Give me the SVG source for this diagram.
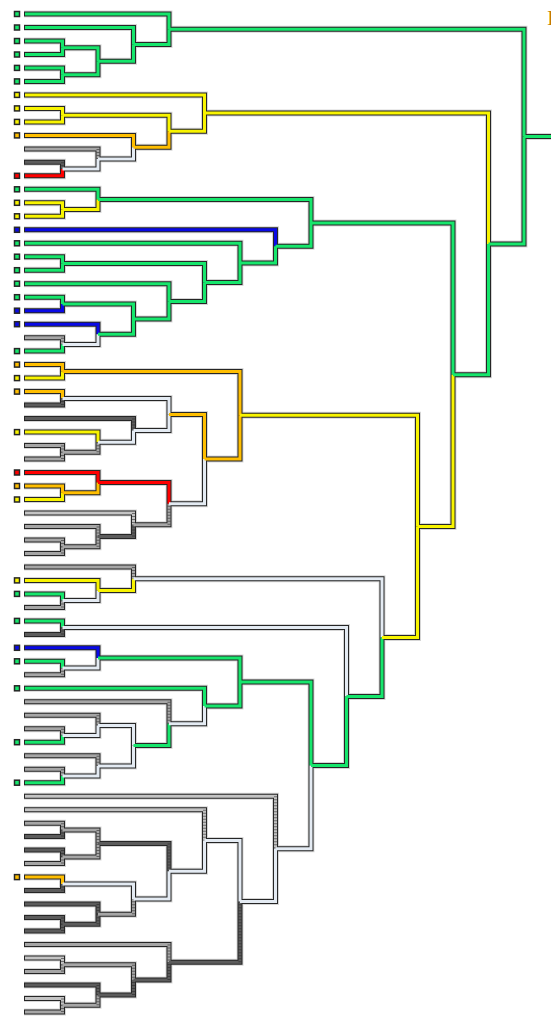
<svg xmlns="http://www.w3.org/2000/svg" width="551" height="1025" viewBox="0 0 551 1025">
<style>
.h{fill:none;stroke:#8a8a8a;stroke-width:7;stroke-opacity:.35;stroke-linejoin:miter}
.o{fill:none;stroke:#262626;stroke-width:5;stroke-linejoin:miter}
.e{fill:none;stroke-width:3;stroke-linejoin:miter}
.g{stroke:#16e66c}.y{stroke:#f8f400}.or{stroke:#ffbe00}.r{stroke:#ff0000}.b{stroke:#0a0ae6}
.w{stroke:#e4ebf3}.gr{stroke:#a6a6a6}.lg{stroke:#c4c4c4}.dg{stroke:#5c5c5c}
.l{fill:none;stroke:#262626;stroke-opacity:.55;stroke-width:3;stroke-dasharray:1 2}
.sq{stroke:#262626;stroke-width:1.5}
.fg{fill:#16e66c}.fy{fill:#f8f400}.fo{fill:#ffbe00}.fr{fill:#ff0000}.fb{fill:#0a0ae6}
.t{font-family:"Liberation Serif",serif;font-size:22px;fill:#c47a00}
</style>
<defs>
<path id="all" d="M24 14H169V29.2M24 27.5H133.5V44.4M24 41H62.5V47.7M24 54.5H62.5V47.7M24 67.9H62.5V74.7M24 81.4H62.5V74.7M24 94.9H204.5V113M24 108.4H62.5V115.2M24 121.9H62.5V115.2M24 135.4H133.5V147.2M24 148.9H98V159M24 162.3H62.5V169.1M24 175.8H62.5V169.1M24 189.3H98V199.4M24 202.8H62.5V209.6M24 216.3H62.5V209.6M24 229.8H275.5V246.3M24 243.3H240V262.9M24 256.7H62.5V263.5M24 270.2H62.5V263.5M24 283.7H169V301.4M24 297.2H62.5V304M24 310.7H62.5V304M24 324.2H98V334.3M24 337.7H62.5V344.4M24 351.1H62.5V344.4M24 364.6H62.5V371.4M24 378.1H62.5V371.4M24 391.6H62.5V398.4M24 405.1H62.5V398.4M24 418.6H133.5V430.4M24 432.1H98V442.2M24 445.6H62.5V452.3M24 459H62.5V452.3M24 472.5H98V482.6M24 486H62.5V492.8M24 499.5H62.5V492.8M24 513H133.5V524.8M24 526.5H98V536.6M24 540H62.5V546.7M24 553.4H62.5V546.7M24 566.9H133.5V578.7M24 580.4H98V590.5M24 593.9H62.5V600.6M24 607.4H62.5V600.6M24 620.9H62.5V627.6M24 634.4H62.5V627.6M24 647.8H98V658M24 661.3H62.5V668.1M24 674.8H62.5V668.1M24 688.3H204.5V706M24 701.8H169V723.7M24 715.3H98V725.4M24 728.8H62.5V735.5M24 742.2H62.5V735.5M24 755.7H98V765.9M24 769.2H62.5V776M24 782.7H62.5V776M24 796.2H275.5V848.8M24 809.7H204.5V840.5M24 823.2H62.5V829.9M24 836.6H62.5V829.9M24 850.1H62.5V856.9M24 863.6H62.5V856.9M24 877.1H62.5V883.9M24 890.6H62.5V883.9M24 904.1H98V914.2M24 917.6H62.5V924.3M24 931H62.5V924.3M24 944.5H169V962.2M24 958H62.5V964.8M24 971.5H62.5V964.8M24 985H98V995.1M24 998.5H62.5V1005.2M24 1012H62.5V1005.2
M62.5 47.7H98V61.2M62.5 74.7H98V61.2M62.5 115.2H169V131.2M62.5 169.1H98V159M62.5 209.6H98V199.4M62.5 263.5H204.5V282.5M62.5 304H133.5V319.1M62.5 344.4H98V334.3M62.5 371.4H240V415.2M62.5 398.4H169V414.4M62.5 452.3H98V442.2M62.5 492.8H98V482.6M62.5 546.7H98V536.6M62.5 600.6H98V590.5M62.5 627.6H346.5V696.5M62.5 668.1H98V658M62.5 735.5H98V725.4M62.5 776H98V765.9M62.5 829.9H98V843.4M62.5 856.9H98V843.4M62.5 883.9H133.5V899M62.5 924.3H98V914.2M62.5 964.8H133.5V979.9M62.5 1005.2H98V995.1
M98 61.2H133.5V44.4M98 159H133.5V147.2M98 199.4H311V222.9M98 334.3H133.5V319.1M98 442.2H133.5V430.4M98 482.6H169V503.7M98 536.6H133.5V524.8M98 590.5H133.5V578.7M98 658H240V682M98 725.4H133.5V745.6M98 765.9H133.5V745.6M98 843.4H169V871.2M98 914.2H133.5V899M98 995.1H133.5V979.9
M133.5 44.4H169V29.2M133.5 147.2H169V131.2M133.5 319.1H169V301.4M133.5 430.4H169V414.4M133.5 524.8H169V503.7M133.5 578.7H382V637.6M133.5 745.6H169V723.7M133.5 899H169V871.2M133.5 979.9H169V962.2
M169 29.2H524V136.5M169 131.2H204.5V113M169 301.4H204.5V282.5M169 414.4H204.5V459.1M169 503.7H204.5V459.1M169 723.7H204.5V706M169 871.2H204.5V840.5M169 962.2H240V901.4
M204.5 113H488.5V243.9M204.5 282.5H240V262.9M204.5 459.1H240V415.2M204.5 706H240V682M204.5 840.5H240V901.4
M240 262.9H275.5V246.3M240 415.2H417.5V526.4M240 682H311V765.4M240 901.4H275.5V848.8
M275.5 246.3H311V222.9M275.5 848.8H311V765.4M311 222.9H453V374.7M311 765.4H346.5V696.5M346.5 696.5H382V637.6M382 637.6H417.5V526.4M417.5 526.4H453V374.7M453 374.7H488.5V243.9M488.5 243.9H524V136.5M524 136.5H560"/>
</defs>
<g id="connectors">
<use href="#all" class="h"/>
<use href="#all" class="o"/>
<path class="e g" d="M25 14H169V29.2"/>
<path class="e g" d="M25 27.5H133.5V44.4"/>
<path class="e g" d="M25 41H62.5V47.7"/>
<path class="e g" d="M25 54.5H62.5V47.7"/>
<path class="e g" d="M25 67.9H62.5V74.7"/>
<path class="e g" d="M25 81.4H62.5V74.7"/>
<path class="e y" d="M25 94.9H204.5V113"/>
<path class="e y" d="M25 108.4H62.5V115.2"/>
<path class="e y" d="M25 121.9H62.5V115.2"/>
<path class="e or" d="M25 135.4H133.5V147.2"/>
<path class="e gr" d="M25 148.9H98V159"/><path class="l" d="M98 148.9V159"/>
<path class="e dg" d="M25 162.3H62.5V169.1"/><path class="l" d="M62.5 162.3V169.1"/>
<path class="e r" d="M25 175.8H62.5V169.1"/>
<path class="e g" d="M25 189.3H98V199.4"/>
<path class="e y" d="M25 202.8H62.5V209.6"/>
<path class="e y" d="M25 216.3H62.5V209.6"/>
<path class="e b" d="M25 229.8H275.5V246.3"/>
<path class="e g" d="M25 243.3H240V262.9"/>
<path class="e g" d="M25 256.7H62.5V263.5"/>
<path class="e g" d="M25 270.2H62.5V263.5"/>
<path class="e g" d="M25 283.7H169V301.4"/>
<path class="e g" d="M25 297.2H62.5V304"/>
<path class="e b" d="M25 310.7H62.5V304"/>
<path class="e b" d="M25 324.2H98V334.3"/>
<path class="e gr" d="M25 337.7H62.5V344.4"/><path class="l" d="M62.5 337.7V344.4"/>
<path class="e g" d="M25 351.1H62.5V344.4"/>
<path class="e or" d="M25 364.6H62.5V371.4"/>
<path class="e y" d="M25 378.1H62.5V371.4"/>
<path class="e or" d="M25 391.6H62.5V398.4"/>
<path class="e dg" d="M25 405.1H62.5V398.4"/><path class="l" d="M62.5 405.1V398.4"/>
<path class="e dg" d="M25 418.6H133.5V430.4"/><path class="l" d="M133.5 418.6V430.4"/>
<path class="e y" d="M25 432.1H98V442.2"/>
<path class="e gr" d="M25 445.6H62.5V452.3"/><path class="l" d="M62.5 445.6V452.3"/>
<path class="e gr" d="M25 459H62.5V452.3"/><path class="l" d="M62.5 459V452.3"/>
<path class="e r" d="M25 472.5H98V482.6"/>
<path class="e or" d="M25 486H62.5V492.8"/>
<path class="e y" d="M25 499.5H62.5V492.8"/>
<path class="e lg" d="M25 513H133.5V524.8"/><path class="l" d="M133.5 513V524.8"/>
<path class="e gr" d="M25 526.5H98V536.6"/><path class="l" d="M98 526.5V536.6"/>
<path class="e gr" d="M25 540H62.5V546.7"/><path class="l" d="M62.5 540V546.7"/>
<path class="e gr" d="M25 553.4H62.5V546.7"/><path class="l" d="M62.5 553.4V546.7"/>
<path class="e gr" d="M25 566.9H133.5V578.7"/><path class="l" d="M133.5 566.9V578.7"/>
<path class="e y" d="M25 580.4H98V590.5"/>
<path class="e g" d="M25 593.9H62.5V600.6"/>
<path class="e gr" d="M25 607.4H62.5V600.6"/><path class="l" d="M62.5 607.4V600.6"/>
<path class="e g" d="M25 620.9H62.5V627.6"/>
<path class="e dg" d="M25 634.4H62.5V627.6"/><path class="l" d="M62.5 634.4V627.6"/>
<path class="e b" d="M25 647.8H98V658"/>
<path class="e g" d="M25 661.3H62.5V668.1"/>
<path class="e gr" d="M25 674.8H62.5V668.1"/><path class="l" d="M62.5 674.8V668.1"/>
<path class="e g" d="M25 688.3H204.5V706"/>
<path class="e gr" d="M25 701.8H169V723.7"/><path class="l" d="M169 701.8V723.7"/>
<path class="e gr" d="M25 715.3H98V725.4"/><path class="l" d="M98 715.3V725.4"/>
<path class="e gr" d="M25 728.8H62.5V735.5"/><path class="l" d="M62.5 728.8V735.5"/>
<path class="e g" d="M25 742.2H62.5V735.5"/>
<path class="e gr" d="M25 755.7H98V765.9"/><path class="l" d="M98 755.7V765.9"/>
<path class="e gr" d="M25 769.2H62.5V776"/><path class="l" d="M62.5 769.2V776"/>
<path class="e g" d="M25 782.7H62.5V776"/>
<path class="e lg" d="M25 796.2H275.5V848.8"/><path class="l" d="M275.5 796.2V848.8"/>
<path class="e lg" d="M25 809.7H204.5V840.5"/><path class="l" d="M204.5 809.7V840.5"/>
<path class="e gr" d="M25 823.2H62.5V829.9"/><path class="l" d="M62.5 823.2V829.9"/>
<path class="e dg" d="M25 836.6H62.5V829.9"/><path class="l" d="M62.5 836.6V829.9"/>
<path class="e dg" d="M25 850.1H62.5V856.9"/><path class="l" d="M62.5 850.1V856.9"/>
<path class="e gr" d="M25 863.6H62.5V856.9"/><path class="l" d="M62.5 863.6V856.9"/>
<path class="e or" d="M25 877.1H62.5V883.9"/>
<path class="e dg" d="M25 890.6H62.5V883.9"/><path class="l" d="M62.5 890.6V883.9"/>
<path class="e dg" d="M25 904.1H98V914.2"/><path class="l" d="M98 904.1V914.2"/>
<path class="e dg" d="M25 917.6H62.5V924.3"/><path class="l" d="M62.5 917.6V924.3"/>
<path class="e dg" d="M25 931H62.5V924.3"/><path class="l" d="M62.5 931V924.3"/>
<path class="e gr" d="M25 944.5H169V962.2"/><path class="l" d="M169 944.5V962.2"/>
<path class="e lg" d="M25 958H62.5V964.8"/><path class="l" d="M62.5 958V964.8"/>
<path class="e gr" d="M25 971.5H62.5V964.8"/><path class="l" d="M62.5 971.5V964.8"/>
<path class="e dg" d="M25 985H98V995.1"/><path class="l" d="M98 985V995.1"/>
<path class="e lg" d="M25 998.5H62.5V1005.2"/><path class="l" d="M62.5 998.5V1005.2"/>
<path class="e gr" d="M25 1012H62.5V1005.2"/><path class="l" d="M62.5 1012V1005.2"/>
<path class="e g" d="M62.5 47.7H98V61.2"/>
<path class="e g" d="M62.5 74.7H98V61.2"/>
<path class="e y" d="M62.5 115.2H169V131.2"/>
<path class="e w" d="M62.5 169.1H98V159"/>
<path class="e y" d="M62.5 209.6H98V199.4"/>
<path class="e g" d="M62.5 263.5H204.5V282.5"/>
<path class="e g" d="M62.5 304H133.5V319.1"/>
<path class="e w" d="M62.5 344.4H98V334.3"/>
<path class="e or" d="M62.5 371.4H240V415.2"/>
<path class="e w" d="M62.5 398.4H169V414.4"/>
<path class="e gr" d="M62.5 452.3H98V442.2"/><path class="l" d="M98 452.3V442.2"/>
<path class="e or" d="M62.5 492.8H98V482.6"/>
<path class="e gr" d="M62.5 546.7H98V536.6"/><path class="l" d="M98 546.7V536.6"/>
<path class="e w" d="M62.5 600.6H98V590.5"/>
<path class="e w" d="M62.5 627.6H346.5V696.5"/>
<path class="e w" d="M62.5 668.1H98V658"/>
<path class="e w" d="M62.5 735.5H98V725.4"/>
<path class="e w" d="M62.5 776H98V765.9"/>
<path class="e gr" d="M62.5 829.9H98V843.4"/><path class="l" d="M98 829.9V843.4"/>
<path class="e gr" d="M62.5 856.9H98V843.4"/><path class="l" d="M98 856.9V843.4"/>
<path class="e w" d="M62.5 883.9H133.5V899"/>
<path class="e dg" d="M62.5 924.3H98V914.2"/><path class="l" d="M98 924.3V914.2"/>
<path class="e gr" d="M62.5 964.8H133.5V979.9"/><path class="l" d="M133.5 964.8V979.9"/>
<path class="e gr" d="M62.5 1005.2H98V995.1"/><path class="l" d="M98 1005.2V995.1"/>
<path class="e g" d="M98 61.2H133.5V44.4"/>
<path class="e w" d="M98 159H133.5V147.2"/>
<path class="e g" d="M98 199.4H311V222.9"/>
<path class="e g" d="M98 334.3H133.5V319.1"/>
<path class="e w" d="M98 442.2H133.5V430.4"/>
<path class="e r" d="M98 482.6H169V503.7"/>
<path class="e dg" d="M98 536.6H133.5V524.8"/><path class="l" d="M133.5 536.6V524.8"/>
<path class="e y" d="M98 590.5H133.5V578.7"/>
<path class="e g" d="M98 658H240V682"/>
<path class="e w" d="M98 725.4H133.5V745.6"/>
<path class="e w" d="M98 765.9H133.5V745.6"/>
<path class="e dg" d="M98 843.4H169V871.2"/><path class="l" d="M169 843.4V871.2"/>
<path class="e gr" d="M98 914.2H133.5V899"/><path class="l" d="M133.5 914.2V899"/>
<path class="e dg" d="M98 995.1H133.5V979.9"/><path class="l" d="M133.5 995.1V979.9"/>
<path class="e g" d="M133.5 44.4H169V29.2"/>
<path class="e or" d="M133.5 147.2H169V131.2"/>
<path class="e g" d="M133.5 319.1H169V301.4"/>
<path class="e w" d="M133.5 430.4H169V414.4"/>
<path class="e gr" d="M133.5 524.8H169V503.7"/><path class="l" d="M169 524.8V503.7"/>
<path class="e w" d="M133.5 578.7H382V637.6"/>
<path class="e g" d="M133.5 745.6H169V723.7"/>
<path class="e w" d="M133.5 899H169V871.2"/>
<path class="e dg" d="M133.5 979.9H169V962.2"/><path class="l" d="M169 979.9V962.2"/>
<path class="e g" d="M169 29.2H524V136.5"/>
<path class="e y" d="M169 131.2H204.5V113"/>
<path class="e g" d="M169 301.4H204.5V282.5"/>
<path class="e or" d="M169 414.4H204.5V459.1"/>
<path class="e w" d="M169 503.7H204.5V459.1"/>
<path class="e w" d="M169 723.7H204.5V706"/>
<path class="e w" d="M169 871.2H204.5V840.5"/>
<path class="e dg" d="M169 962.2H240V901.4"/><path class="l" d="M240 962.2V901.4"/>
<path class="e y" d="M204.5 113H488.5V243.9"/>
<path class="e g" d="M204.5 282.5H240V262.9"/>
<path class="e or" d="M204.5 459.1H240V415.2"/>
<path class="e g" d="M204.5 706H240V682"/>
<path class="e w" d="M204.5 840.5H240V901.4"/>
<path class="e g" d="M240 262.9H275.5V246.3"/>
<path class="e y" d="M240 415.2H417.5V526.4"/>
<path class="e g" d="M240 682H311V765.4"/>
<path class="e w" d="M240 901.4H275.5V848.8"/>
<path class="e g" d="M275.5 246.3H311V222.9"/>
<path class="e w" d="M275.5 848.8H311V765.4"/>
<path class="e g" d="M311 222.9H453V374.7"/>
<path class="e g" d="M311 765.4H346.5V696.5"/>
<path class="e g" d="M346.5 696.5H382V637.6"/>
<path class="e y" d="M382 637.6H417.5V526.4"/>
<path class="e y" d="M417.5 526.4H453V374.7"/>
<path class="e g" d="M453 374.7H488.5V243.9"/>
<path class="e g" d="M488.5 243.9H524V136.5"/>
<path class="e g" d="M524 136.5H560"/>
</g>
<g id="nodes">
<g id="leaf0"><rect class="sq fg" x="14.5" y="11.5" width="5" height="5"/></g>
<g id="leaf1"><rect class="sq fg" x="14.5" y="25" width="5" height="5"/></g>
<g id="leaf2"><rect class="sq fg" x="14.5" y="38.5" width="5" height="5"/></g>
<g id="leaf3"><rect class="sq fg" x="14.5" y="52" width="5" height="5"/></g>
<g id="leaf4"><rect class="sq fg" x="14.5" y="65.4" width="5" height="5"/></g>
<g id="leaf5"><rect class="sq fg" x="14.5" y="78.9" width="5" height="5"/></g>
<g id="leaf6"><rect class="sq fy" x="14.5" y="92.4" width="5" height="5"/></g>
<g id="leaf7"><rect class="sq fy" x="14.5" y="105.9" width="5" height="5"/></g>
<g id="leaf8"><rect class="sq fy" x="14.5" y="119.4" width="5" height="5"/></g>
<g id="leaf9"><rect class="sq fo" x="14.5" y="132.9" width="5" height="5"/></g>
<g id="leaf12"><rect class="sq fr" x="14.5" y="173.3" width="5" height="5"/></g>
<g id="leaf13"><rect class="sq fg" x="14.5" y="186.8" width="5" height="5"/></g>
<g id="leaf14"><rect class="sq fy" x="14.5" y="200.3" width="5" height="5"/></g>
<g id="leaf15"><rect class="sq fy" x="14.5" y="213.8" width="5" height="5"/></g>
<g id="leaf16"><rect class="sq fb" x="14.5" y="227.3" width="5" height="5"/></g>
<g id="leaf17"><rect class="sq fg" x="14.5" y="240.8" width="5" height="5"/></g>
<g id="leaf18"><rect class="sq fg" x="14.5" y="254.2" width="5" height="5"/></g>
<g id="leaf19"><rect class="sq fg" x="14.5" y="267.7" width="5" height="5"/></g>
<g id="leaf20"><rect class="sq fg" x="14.5" y="281.2" width="5" height="5"/></g>
<g id="leaf21"><rect class="sq fg" x="14.5" y="294.7" width="5" height="5"/></g>
<g id="leaf22"><rect class="sq fb" x="14.5" y="308.2" width="5" height="5"/></g>
<g id="leaf23"><rect class="sq fb" x="14.5" y="321.7" width="5" height="5"/></g>
<g id="leaf25"><rect class="sq fg" x="14.5" y="348.6" width="5" height="5"/></g>
<g id="leaf26"><rect class="sq fo" x="14.5" y="362.1" width="5" height="5"/></g>
<g id="leaf27"><rect class="sq fy" x="14.5" y="375.6" width="5" height="5"/></g>
<g id="leaf28"><rect class="sq fo" x="14.5" y="389.1" width="5" height="5"/></g>
<g id="leaf31"><rect class="sq fy" x="14.5" y="429.6" width="5" height="5"/></g>
<g id="leaf34"><rect class="sq fr" x="14.5" y="470" width="5" height="5"/></g>
<g id="leaf35"><rect class="sq fo" x="14.5" y="483.5" width="5" height="5"/></g>
<g id="leaf36"><rect class="sq fy" x="14.5" y="497" width="5" height="5"/></g>
<g id="leaf42"><rect class="sq fy" x="14.5" y="577.9" width="5" height="5"/></g>
<g id="leaf43"><rect class="sq fg" x="14.5" y="591.4" width="5" height="5"/></g>
<g id="leaf45"><rect class="sq fg" x="14.5" y="618.4" width="5" height="5"/></g>
<g id="leaf47"><rect class="sq fb" x="14.5" y="645.3" width="5" height="5"/></g>
<g id="leaf48"><rect class="sq fg" x="14.5" y="658.8" width="5" height="5"/></g>
<g id="leaf50"><rect class="sq fg" x="14.5" y="685.8" width="5" height="5"/></g>
<g id="leaf54"><rect class="sq fg" x="14.5" y="739.7" width="5" height="5"/></g>
<g id="leaf57"><rect class="sq fg" x="14.5" y="780.2" width="5" height="5"/></g>
<g id="leaf64"><rect class="sq fo" x="14.5" y="874.6" width="5" height="5"/></g>
</g>
<text class="t" x="547" y="25">I</text>
</svg>
